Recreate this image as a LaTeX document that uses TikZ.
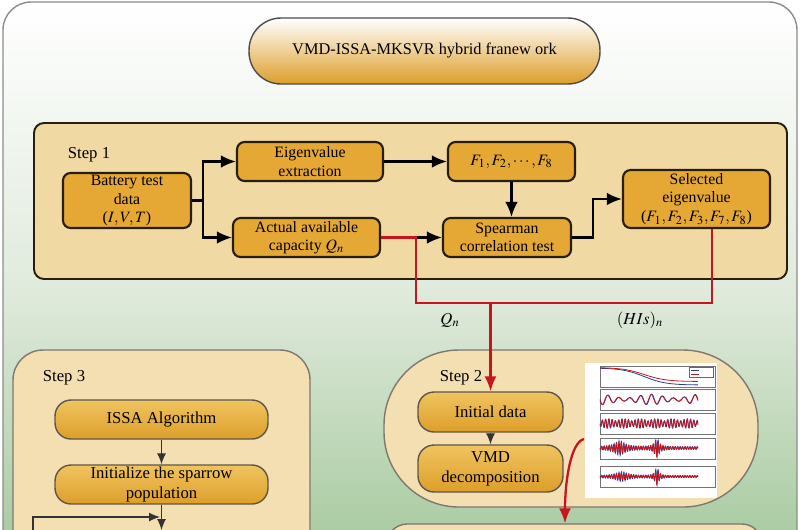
\documentclass[tikz,border=0pt]{standalone}
\usepackage{mathptmx}
\usepackage[no-math]{fontspec}
\setmainfont{Liberation Serif}
\usetikzlibrary{arrows.meta,positioning}

\definecolor{boxorange}{RGB}{229,168,52}
\definecolor{pilltop}{RGB}{240,196,96}
\definecolor{pillbot}{RGB}{221,158,42}
\definecolor{boxline}{RGB}{40,30,15}
\definecolor{paneltan}{RGB}{241,217,164}
\definecolor{lighttan}{RGB}{244,223,178}
\definecolor{bgmid}{RGB}{224,234,220}
\definecolor{bggreen}{RGB}{160,198,152}
\definecolor{redline}{RGB}{200,20,28}
\definecolor{plotblue}{RGB}{35,60,150}

\begin{document}
\begin{tikzpicture}[x=0.02cm, y=-0.02cm, semithick,
  >={Latex[length=3mm, width=2.5mm]},
  panel/.style={draw=boxline, line width=1.1pt, fill=paneltan, rounded corners=0.2cm},
  softpanel/.style={draw=boxline!60, line width=0.8pt, fill=lighttan},
  stepbox/.style={draw=boxline, line width=1.2pt, fill=boxorange, rounded corners=0.15cm,
    align=center, inner sep=0.5pt, font=\fontsize{9}{10.5}\selectfont},
  pill/.style={draw=boxline!75, line width=0.8pt, top color=pilltop, bottom color=pillbot,
    rounded corners=0.32cm, align=center, inner sep=1pt, minimum width=2.9cm,
    font=\fontsize{9.5}{11.5}\selectfont},
  steplabel/.style={font=\fontsize{9.5}{11}\selectfont},
  flow/.style={->, draw=black, line width=1.2pt},
  thinflow/.style={-{Latex[length=2.2mm, width=1.8mm]}, draw=black!80, line width=0.7pt},
  redpath/.style={draw=redline, line width=1.3pt},
  redarrow/.style={redpath, -{Latex[length=3mm, width=2.4mm]}},
  trace/.style={line width=0.45pt}]

  \useasboundingbox (0,0) rectangle (800,529);
  \clip (0,0) rectangle (800,529);

  \draw[draw=black!45, line width=0.8pt, rounded corners=0.56cm, top color=white, bottom color=bggreen, middle color=bgmid] (3,2) rectangle (797,580);

  \node[draw=black!70, line width=0.8pt, rounded corners=0.64cm, top color=white, bottom color=pillbot,
    minimum width=7.02cm, minimum height=1.32cm, font=\fontsize{9.3}{12}\selectfont] (title) at (424.5,51) {VMD-ISSA-MKSVR hybrid franew ork};

  % step 1
  \draw[panel] (34,123) rectangle (787,279);
  \node[steplabel] (s1) at (89,155) {Step 1};
  \node[stepbox, minimum width=2.56cm, minimum height=1.1cm] (battery) at (127,200.5) {Battery test\\data\\($I, V, T$)};
  \node[stepbox, minimum width=2.92cm, minimum height=0.78cm] (eigen) at (310,161.5) {Eigenvalue\\extraction};
  \node[stepbox, minimum width=2.94cm, minimum height=0.78cm] (capacity) at (306.5,237.5) {Actual available\\capacity $Q_n$};
  \node[stepbox, minimum width=2.54cm, minimum height=0.78cm] (feat) at (511.5,161.5) {$F_1, F_2, \cdots, F_8$};
  \node[stepbox, minimum width=2.56cm, minimum height=0.78cm] (spear) at (507,237.5) {Spearman\\correlation test};
  \node[stepbox, minimum width=2.94cm, minimum height=1.16cm] (select) at (696.5,199) {Selected\\eigenvalue\\($F_1, F_2, F_3, F_7, F_8$)};

  \coordinate (split) at (203,200.5);
  \draw[line width=1.2pt] (battery.east) -- (split);
  \draw[flow] (split) |- (eigen.west);
  \draw[flow] (split) |- (capacity.west);
  \draw[flow] (eigen) -- (feat);
  \draw[flow] (feat.south) -- (feat.south |- spear.north);
  \draw[flow] (capacity) -- (spear);
  \draw[flow] (spear.east) -- ++(21,0) |- (select.west);

  % step 3
  \draw[softpanel, rounded corners=0.6cm] (13,350) rectangle (310,600);
  \node[steplabel] (s3) at (64,378) {Step 3};
  \node[pill, minimum width=4.26cm, minimum height=0.78cm] (issa) at (161.5,419.5) {ISSA Algorithm};
  \node[pill, minimum width=4.26cm, minimum height=0.78cm] (init) at (161.5,484.5) {Initialize the sparrow\\population};
  \coordinate (nextstep) at (161.5,530);
  \coordinate (loopin) at (33,560);
  \coordinate (loopend) at (160,517);
  \draw[thinflow] (issa) -- (init);
  \draw[thinflow] (init) -- (nextstep);
  \draw[thinflow] (loopin) |- (loopend);

  % step 2
  \draw[softpanel, rounded corners=1.5cm] (384,350) rectangle (758,507);
  \node[steplabel] (s2) at (461,378) {Step 2};
  \node[pill, minimum height=0.8cm] (initial) at (490.5,412) {Initial data};
  \node[pill, minimum height=0.94cm] (vmd) at (490.5,468.5) {VMD\\decomposition};
  \draw[thinflow] (initial) -- (vmd);

  \node[fill=white, inner sep=0, minimum width=2.64cm, minimum height=2.7cm] (chart) at (651,430.5) {};
  \foreach \ya in {366,389,413,438,466}
    \draw[black!55, line width=0.3pt] (600,\ya) rectangle (715,\ya+21);
  \draw[trace, plotblue] plot[domain=0:1, samples=40] ({600+98*\x}, {368+17/(1+exp(-(\x-0.45)*9))});
  \draw[trace, redline] plot[domain=0:1, samples=40] ({600+98*\x}, {367.5+14/(1+exp(-(\x-0.45)*9))});
  \draw[black!60, line width=0.3pt, fill=white] (689,367) rectangle (713,377);
  \draw[trace, plotblue] (691,370) -- (699,370);
  \draw[trace, redline] (691,374) -- (699,374);
  \draw[trace, plotblue] plot[domain=0:1, samples=160] ({600+98*\x}, {399.5+5.4*sin(3240*\x)*(0.65+0.35*cos(700*\x))});
  \draw[trace, redline] plot[domain=0:1, samples=160] ({600+98*\x}, {399.5+5*sin(3240*\x+15)*(0.65+0.35*cos(700*\x))});
  \draw[trace, plotblue] plot[domain=0:1, samples=420] ({600+98*\x}, {423.5+4.8*sin(10800*\x)*(0.55+0.45*abs(sin(1100*\x)))});
  \draw[trace, redline] plot[domain=0:1, samples=420] ({600+98*\x}, {423.5+4.3*sin(10800*\x+30)*(0.55+0.45*abs(sin(1100*\x)))});
  \draw[trace, plotblue] plot[domain=0:1, samples=500] ({600+98*\x}, {448+(1.3+6/(1+((\x-0.2)/0.06)^2)+8/(1+((\x-0.58)/0.025)^2))*sin(14400*\x)});
  \draw[trace, redline] plot[domain=0:1, samples=500] ({600+98*\x}, {448+(1.1+4.5/(1+((\x-0.2)/0.06)^2)+7.5/(1+((\x-0.58)/0.025)^2))*sin(14400*\x+40)});
  \draw[trace, plotblue] plot[domain=0:1, samples=500] ({600+98*\x}, {476.5+(0.9+4/(1+((\x-0.22)/0.07)^2)+8/(1+((\x-0.58)/0.02)^2))*sin(14400*\x)});
  \draw[trace, redline] plot[domain=0:1, samples=500] ({600+98*\x}, {476.5+(0.8+2.5/(1+((\x-0.22)/0.07)^2)+7/(1+((\x-0.58)/0.02)^2))*sin(14400*\x+40)});

  \node[softpanel, rounded corners=0.4cm, minimum width=7.5cm, minimum height=1.6cm] (model) at (574.5,564) {};

  % red links
  \coordinate (join) at (490.5,303);
  \coordinate (vmdout) at (584,439);
  \draw[redpath] (capacity.east) -- ++(35,0) |- (join) -| ([xshift=0.31cm]select.south);
  \draw[redarrow] (join) -- (initial.north);
  \draw[redarrow] (vmdout) .. controls (571,442) and (565,480) .. ([xshift=-0.19cm]model.north);
  \node[steplabel] (qlab) at (450,320) {$Q_n$};
  \node[steplabel] (hlab) at (640,320) {$(HIs)_n$};
\end{tikzpicture}
\end{document}
